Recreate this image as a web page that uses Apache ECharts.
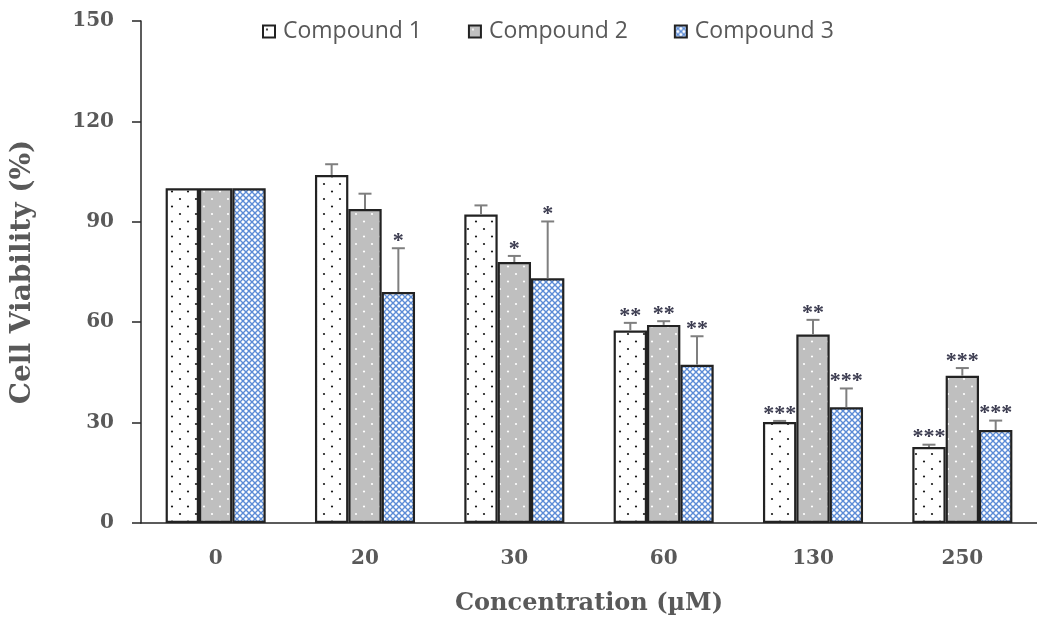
<!DOCTYPE html>
<html>
<head>
<meta charset="utf-8">
<script src="https://cdn.jsdelivr.net/npm/echarts@6/dist/echarts.min.js"></script>
<style>
  html, body { margin: 0; padding: 0; background: #ffffff; overflow: hidden; }
  #chart { width: 1037px; height: 621px; }
</style>
</head>
<body>
<div id="chart"></div>
<script>
// ---------- DATA ----------
const categories = ['0', '20', '30', '60', '130', '250'];
const seriesNames = ['Compound 1', 'Compound 2', 'Compound 3'];
const compound1 = [100, 104, 92.2, 57.5, 30.2, 22.7];
const compound2 = [100, 93.8, 78.0, 59.2, 56.3, 44.0];
const compound3 = [100, 69.0, 73.1, 47.3, 34.6, 27.8];
const sd1 = [0, 3.2, 2.7, 2.3, 0.3, 0.7];
const sd2 = [0, 4.6, 1.8, 1.1, 4.4, 2.3];
const sd3 = [0, 13.1, 17.0, 8.5, 5.6, 2.8];
const sig1 = ['', '', '', '**', '***', '***'];
const sig2 = ['', '', '*', '**', '**', '***'];
const sig3 = ['', '*', '*', '**', '***', '***'];
const yTicks = [0, 30, 60, 90, 120, 150];

// ---------- PATTERNS ----------
function makeDots(bg, dot, r) {
  const c = document.createElement('canvas');
  c.width = 16; c.height = 15;
  const g = c.getContext('2d');
  g.fillStyle = bg; g.fillRect(0, 0, 16, 15);
  g.fillStyle = dot;
  [[4, 4], [12, 11.5]].forEach(p => { g.beginPath(); g.arc(p[0], p[1], r, 0, Math.PI * 2); g.fill(); });
  return c;
}
function makeHatch() {
  const c = document.createElement('canvas');
  c.width = 6; c.height = 6;
  const g = c.getContext('2d');
  g.fillStyle = '#ffffff'; g.fillRect(0, 0, 6, 6);
  g.strokeStyle = '#5b8bd6'; g.lineWidth = 1.4;
  g.beginPath();
  g.moveTo(0, 0); g.lineTo(6, 6);
  g.moveTo(6, 0); g.lineTo(0, 6);
  g.stroke();
  return c;
}
const pat1 = { image: makeDots('#ffffff', '#1a1a1a', 1.1), repeat: 'repeat' };
const pat2 = { image: makeDots('#bfbfbf', '#ffffff', 1.1), repeat: 'repeat' };
const pat3 = { image: makeHatch(), repeat: 'repeat' };

const GAP = 0.33;
const values = [compound1, compound2, compound3];
const sds = [sd1, sd2, sd3];
const sigs = [sig1, sig2, sig3];
const pats = [pat1, pat2, pat3];

const barSeries = seriesNames.map((n, k) => ({
  name: n,
  type: 'bar',
  data: values[k],
  barGap: '0%',
  barCategoryGap: (GAP * 100) + '%',
  itemStyle: { color: pats[k], borderColor: '#222222', borderWidth: 2.2 },
  z: 2
}));

const errSeries = seriesNames.map((n, k) => ({
  name: 'err' + (k + 1),
  type: 'custom',
  z: 5,
  silent: true,
  data: values[k].map((v, i) => [i, v, sds[k][i]]),
  encode: { x: 0, y: 1 },
  renderItem: function (params, api) {
    const ci = api.value(0), v = api.value(1), sd = api.value(2);
    const band = api.size([1, 0])[0];
    const bw = band * (1 - GAP) / 3;
    const base = api.coord([ci, v]);
    const x = base[0] + (k - 1) * bw;
    const yTop = api.coord([ci, v + sd])[1];
    const children = [];
    if (sd > 0) {
      children.push({ type: 'line', shape: { x1: x, y1: base[1], x2: x, y2: yTop }, style: { stroke: '#7f7f7f', lineWidth: 2 } });
      children.push({ type: 'line', shape: { x1: x - 6.5, y1: yTop, x2: x + 6.5, y2: yTop }, style: { stroke: '#7f7f7f', lineWidth: 2 } });
    }
    const s = sigs[k][params.dataIndex];
    if (s) {
      children.push({ type: 'text', x: x, y: yTop - 7, style: { text: s, fill: '#3c3c50', font: 'bold 22px "Liberation Serif"', align: 'center', verticalAlign: 'middle' } });
    }
    return { type: 'group', children: children };
  }
}));

const chart = echarts.init(document.getElementById('chart'), null, { renderer: 'canvas' });
chart.setOption({
  animation: false,
  backgroundColor: '#ffffff',
  grid: { left: 141, width: 910, top: 21, bottom: 97, containLabel: false },
  legend: {
    data: seriesNames,
    top: 20, left: 262, padding: 0,
    itemWidth: 12, itemHeight: 12, itemGap: 46,
    icon: 'rect',
    textStyle: { color: '#595959', fontSize: 23, fontFamily: 'Open Sans', padding: [0, 0, 0, 3] }
  },
  xAxis: {
    type: 'category',
    data: categories,
    name: 'Concentration (µM)',
    nameLocation: 'middle',
    nameGap: 69,
    nameTextStyle: { color: '#595959', fontSize: 24, fontWeight: 'bold', fontFamily: 'DejaVu Serif' },
    axisLine: { lineStyle: { color: '#262626', width: 1.5 } },
    axisTick: { show: false },
    axisLabel: { color: '#595959', fontSize: 20, fontWeight: 'bold', fontFamily: 'DejaVu Serif', margin: 26 }
  },
  yAxis: {
    type: 'value',
    min: yTicks[0], max: yTicks[yTicks.length - 1], interval: 30,
    name: 'Cell Viability (%)',
    nameLocation: 'middle',
    nameGap: 104,
    nameTextStyle: { color: '#595959', fontSize: 28, fontWeight: 'bold', fontFamily: 'DejaVu Serif' },
    axisLine: { show: true, lineStyle: { color: '#262626', width: 1.5 } },
    axisTick: { show: true, length: 9, lineStyle: { color: '#262626', width: 1.5 } },
    splitLine: { show: false },
    axisLabel: { color: '#595959', fontSize: 20, fontWeight: 'bold', fontFamily: 'DejaVu Serif', margin: 27 }
  },
  series: barSeries.concat(errSeries)
});
</script>
</body>
</html>
